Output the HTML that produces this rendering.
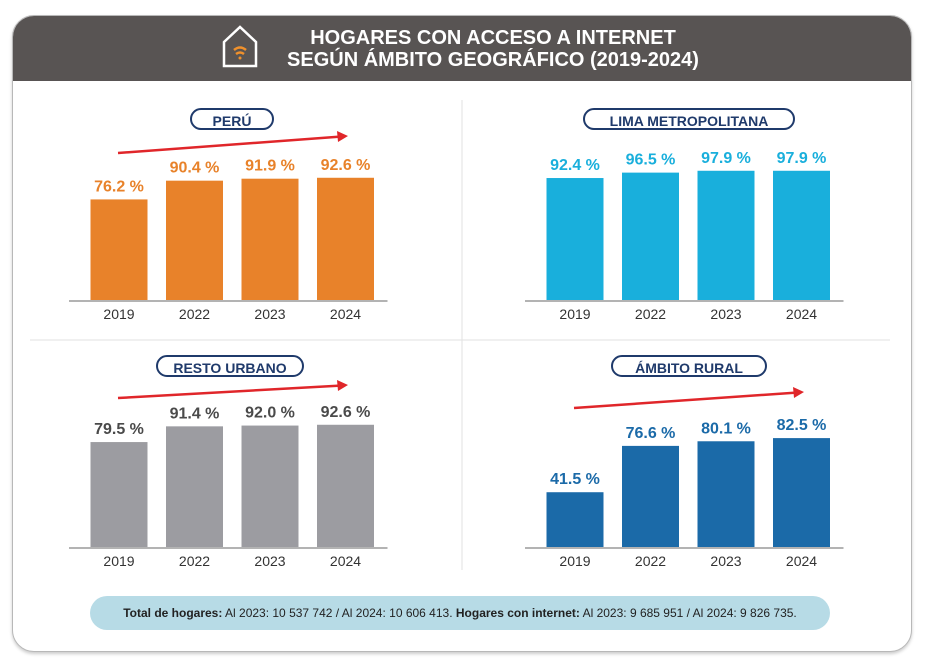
<!DOCTYPE html>
<html><head><meta charset="utf-8">
<style>
body{margin:0;background:#fff;width:925px;height:663px;overflow:hidden;font-family:"Liberation Sans",sans-serif}
#card{position:absolute;left:12px;top:15px;width:898px;height:635px;border:1px solid #b8b8b8;border-radius:22px;overflow:hidden;background:#fff;box-shadow:0 2px 3px #ccc}
#hdr{position:absolute;left:0;top:0;width:100%;height:65px;background:#585453;color:#fff;text-align:center;font-weight:bold;font-size:20px;line-height:22px}
#hdr .t{position:absolute;left:240px;top:11px;width:480px;text-align:center}
.pill{position:absolute;border:2px solid #1f3a6b;border-radius:14px;color:#1f3a6b;font-weight:bold;font-size:14px;text-align:center;height:22px;line-height:22px;background:#fff;box-sizing:border-box}
#foot{position:absolute;left:90px;top:596px;width:740px;height:34px;border-radius:17px;background:#b7dbe6;font-size:12px;line-height:34px;text-align:center;color:#222}
svg{position:absolute;left:0;top:0}
</style></head><body>
<div id="card">
<div id="hdr"><div class="t">HOGARES CON ACCESO A INTERNET<br>SEGÚN ÁMBITO GEOGRÁFICO (2019-2024)</div></div>
</div>
<svg id="ch" width="925" height="663">
<g fill="none" stroke="#fff" stroke-width="2.5">
<path d="M224 42 L240 27 L256 42 L256 66 L224 66 Z"/>
<path d="M234 50 q6-5 12 0 M236 54 q4-3 8 0" stroke="#f0912c"/><circle cx="240" cy="58" r="1.5" fill="#f0912c" stroke="none"/>
</g>
<line x1="462" y1="100" x2="462" y2="570" stroke="#e2e2e2"/>
<line x1="30" y1="340" x2="890" y2="340" stroke="#e2e2e2"/>
</svg>
<div class="pill" style="left:190px;top:108px;width:84px">PERÚ</div>
<div class="pill" style="left:583px;top:108px;width:212px">LIMA METROPOLITANA</div>
<div class="pill" style="left:156px;top:355px;width:148px">RESTO URBANO</div>
<div class="pill" style="left:611px;top:355px;width:156px">ÁMBITO RURAL</div>
<div id="foot"><b>Total de hogares:</b> Al 2023: 10 537 742 / Al 2024: 10 606 413. <b>Hogares con internet:</b> Al 2023: 9 685 951 / Al 2024: 9 826 735.</div>
<script>
const years=["2019","2022","2023","2024"];
const peru=[76.2,90.4,91.9,92.6];
const lima=[92.4,96.5,97.9,97.9];
const resto=[79.5,91.4,92.0,92.6];
const rural=[41.5,76.6,80.1,82.5];
const NS="http://www.w3.org/2000/svg";
const svg=document.getElementById('ch');
const panels=[
 {name:'peru',vals:peru,x0:119,base:300,fill:'#e8822a',lab:'#e8822a',arrow:[118,153,348,136]},
 {name:'lima',vals:lima,x0:575,base:300,fill:'#19afdc',lab:'#19afdc',arrow:null},
 {name:'resto',vals:resto,x0:119,base:547,fill:'#9c9ca1',lab:'#4a4a4a',arrow:[118,398,348,385]},
 {name:'rural',vals:rural,x0:575,base:547,fill:'#1b6aa8',lab:'#1b6aa8',arrow:[574,408,804,392]}
];
const step=75.5,bw=57,k=1.32;
function el(t,a){const e=document.createElementNS(NS,t);for(const key in a)e.setAttribute(key,a[key]);svg.appendChild(e);return e;}
panels.forEach(p=>{
 const ax=el('line',{x1:p.x0-50,x2:p.x0+3*step+42,y1:p.base+1,y2:p.base+1,stroke:'#9a9a9a','stroke-width':1.5});
 
 
 p.vals.forEach((v,i)=>{
  const cx=p.x0+i*step,h=v*k;
  const r=el('rect',{x:cx-bw/2,y:p.base-h,width:bw,height:h,fill:p.fill});
  
  
  const t=el('text',{x:cx,y:p.base-h-8,'text-anchor':'middle','font-size':16,'font-weight':'bold',fill:p.lab});
  t.textContent=v.toFixed(1)+' %';
  
  
  const y=el('text',{x:cx,y:p.base+19,'text-anchor':'middle','font-size':14,fill:'#333'});
  y.textContent=years[i];
  
  
 });
 if(p.arrow){
  const [x1,y1,x2,y2]=p.arrow;
  const l=el('line',{x1:x1,y1:y1,x2:x2-8,y2:y2+0.6,stroke:'#e0262a','stroke-width':2.5});
  
  
  const h=el('polygon',{points:`${x2},${y2} ${x2-11},${y2-5} ${x2-10},${y2+6}`,fill:'#e0262a'});
  
  
 }
});
</script>
</body></html>
